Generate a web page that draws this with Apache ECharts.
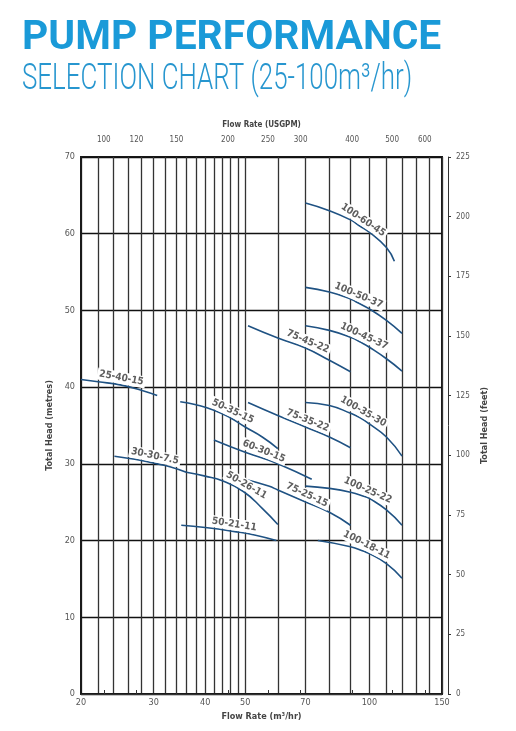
<!DOCTYPE html>
<html>
<head>
<meta charset="utf-8">
<title>Pump Performance Selection Chart</title>
<script src="https://cdn.jsdelivr.net/npm/echarts@6/dist/echarts.min.js"></script>
<style>
  html, body { margin: 0; padding: 0; background: #fff; }
  #chart { width: 516px; height: 731px; }
</style>
</head>
<body>
<div id="chart"></div>
<script>
// flow in m3/hr, head in metres
var gridFlows = [20, 22, 24, 26, 28, 30, 32, 34, 36, 38, 40, 42, 44, 46, 48,
                 50, 60, 70, 80, 90, 100, 110, 120, 130, 140, 150];
var flowLabels = [20, 30, 40, 50, 70, 100, 150];
var gpmLabels = [100, 120, 150, 200, 250, 300, 400, 500, 600];
var GPM_PER_M3H = 4.403;

var names = ['25-40-15', '30-30-7.5', '50-26-11', '50-21-11', '50-35-15',
             '60-30-15', '75-45-22', '75-35-22', '75-25-15', '100-60-45',
             '100-50-37', '100-45-37', '100-35-30', '100-25-22', '100-18-11'];

var flow_25_40_15 = [20, 22, 24.9, 28, 30.6];
var head_25_40_15 = [41.0, 40.7, 40.3, 39.6, 38.9];

var flow_30_30_7 = [24.1, 27, 30, 33, 36];
var head_30_30_7 = [31.0, 30.6, 30.1, 29.6, 28.9];

var flow_50_26_11 = [36, 40, 44, 49.5, 55, 60];
var head_50_26_11 = [28.9, 28.4, 27.8, 26.4, 24.2, 22.1];

var flow_50_21_11 = [35, 40, 46.8, 53, 59.5];
var head_50_21_11 = [22.0, 21.7, 21.2, 20.7, 20.0];

var flow_50_35_15 = [34.8, 38, 42, 46, 50, 55, 60];
var head_50_35_15 = [38.1, 37.7, 37.0, 36.0, 34.8, 33.5, 32.0];

var flow_60_30_15 = [42, 50, 54.8, 60, 72.5];
var head_60_30_15 = [33.1, 31.5, 30.8, 30.0, 28.0];

var flow_75_45_22 = [50.8, 60, 70, 80, 90];
var head_75_45_22 = [48.0, 46.4, 45.1, 43.5, 42.0];

var flow_75_35_22 = [50.8, 60, 70, 80, 90];
var head_75_35_22 = [38.0, 36.3, 34.8, 33.5, 32.1];

var flow_75_25_15 = [50, 57, 60, 69.6, 80, 90];
var head_75_25_15 = [28.0, 27.1, 26.6, 25.1, 23.7, 22.0];

var flow_100_60_45 = [70, 80, 90, 94.8, 100, 110, 115];
var head_100_60_45 = [64.0, 63.0, 61.8, 61.0, 60.2, 58.2, 56.4];

var flow_100_50_37 = [70, 80, 90, 93, 100, 110, 120];
var head_100_50_37 = [53.0, 52.4, 51.5, 51.1, 50.2, 48.7, 47.0];

var flow_100_45_37 = [70, 80, 90, 95.7, 100, 110, 120];
var head_100_45_37 = [48.0, 47.4, 46.5, 45.8, 45.2, 43.7, 42.1];

var flow_100_35_30 = [70, 80, 90, 95, 100, 110, 120];
var head_100_35_30 = [38.0, 37.6, 36.6, 36.0, 35.2, 33.5, 31.0];

var flow_100_25_22 = [70, 80, 90, 97.8, 100, 110, 120];
var head_100_25_22 = [27.1, 26.8, 26.3, 25.7, 25.5, 24.0, 22.0];

var flow_100_18_11 = [75, 90, 97, 100, 110, 120];
var head_100_18_11 = [20.0, 19.2, 18.6, 18.3, 17.0, 15.1];

var flows = [flow_25_40_15, flow_30_30_7, flow_50_26_11, flow_50_21_11, flow_50_35_15,
             flow_60_30_15, flow_75_45_22, flow_75_35_22, flow_75_25_15, flow_100_60_45,
             flow_100_50_37, flow_100_45_37, flow_100_35_30, flow_100_25_22, flow_100_18_11];
var heads = [head_25_40_15, head_30_30_7, head_50_26_11, head_50_21_11, head_50_35_15,
             head_60_30_15, head_75_45_22, head_75_35_22, head_75_25_15, head_100_60_45,
             head_100_50_37, head_100_45_37, head_100_35_30, head_100_25_22, head_100_18_11];

// where each curve's name sits (point index) and its tilt in degrees
var labelIdx = [2, 2, 3, 2, 3, 2, 2, 2, 3, 3, 3, 3, 3, 3, 2];
var labelRot = [-11, -12, -30, -9, -25, -22, -23, -22, -25, -34, -23, -25, -30, -24, -27];

var lg = function (v) { return Math.log10(v); };
var unlg = function (v) { return Math.round(Math.pow(10, v)); };

var FONT = "'DejaVu Sans Condensed', 'Liberation Sans Narrow', Roboto, sans-serif";
var BLUE = '#1a9ad8';

var series = names.map(function (name, i) {
    var data = flows[i].map(function (f, j) {
        var item = { value: [lg(f), heads[i][j]] };
        if (j === labelIdx[i]) {
            item.label = {
                show: true,
                formatter: name,
                position: 'top',
                distance: 1,
                rotate: labelRot[i],
                color: '#5e5e5e',
                fontFamily: FONT,
                fontWeight: 'bold',
                fontSize: 10,
                lineHeight: 10,
                backgroundColor: '#fff',
                padding: [1, 2]
            };
        }
        return item;
    });
    return {
        name: name,
        type: 'line',
        smooth: true,
        showSymbol: true,
        symbol: 'circle',
        symbolSize: 0,
        silent: true,
        lineStyle: { color: '#1f5283', width: 1.6 },
        itemStyle: { color: '#1f5283' },
        label: { show: false },
        data: data
    };
});

var chart = echarts.init(document.getElementById('chart'), null, { renderer: 'canvas' });

var option = {
    animation: false,
    backgroundColor: '#fff',
    graphic: [
        {
            type: 'text', x: 22, y: 19, scaleX: 1.02,
            style: { text: 'PUMP PERFORMANCE', fill: BLUE, fontFamily: 'Roboto, sans-serif',
                     fontWeight: 'bold', fontSize: 40, verticalAlign: 'top' }
        },
        {
            type: 'text', x: 22, y: 62, scaleX: 0.72,
            style: { text: 'SELECTION CHART (25-100m\u00b3/hr)', fill: '#2796cf', fontFamily: 'Roboto, sans-serif',
                     fontWeight: 300, fontSize: 36, verticalAlign: 'top' }
        }
    ],
    grid: {
        left: 81, right: 74, top: 157, bottom: 37,
        show: true, borderColor: '#1a1a1a', borderWidth: 2
    },
    xAxis: [
        {
            type: 'value',
            position: 'bottom',
            min: lg(20), max: lg(150),
            name: 'Flow Rate (m\u00b3/hr)',
            nameLocation: 'middle',
            nameGap: 17,
            nameTextStyle: { color: '#444', fontFamily: FONT, fontWeight: 'bold', fontSize: 9 },
            axisLine: { show: true, lineStyle: { color: '#1a1a1a', width: 2 } },
            axisTick: { show: false, customValues: gridFlows.map(lg) },
            axisLabel: {
                customValues: flowLabels.map(lg), formatter: unlg,
                showMinLabel: true, showMaxLabel: true,
                color: '#555', fontFamily: FONT, fontSize: 9, margin: 4
            },
            splitLine: { show: true, lineStyle: { color: '#333', width: 1.3 } }
        },
        {
            type: 'value',
            position: 'top',
            offset: 8,
            min: lg(20 * GPM_PER_M3H), max: lg(150 * GPM_PER_M3H),
            name: 'Flow Rate (USGPM)',
            nameLocation: 'middle',
            nameGap: 20,
            nameTextStyle: { color: '#444', fontFamily: FONT, fontWeight: 'bold', fontSize: 8 },
            axisLine: { show: true, lineStyle: { color: '#333', width: 1 } },
            axisTick: { show: true, inside: false, length: 4, customValues: gpmLabels.map(lg),
                        lineStyle: { color: '#333' } },
            axisLabel: {
                customValues: gpmLabels.map(lg), formatter: unlg,
                color: '#555', fontFamily: FONT, fontSize: 8, margin: 5
            },
            splitLine: { show: false }
        }
    ],
    yAxis: [
        {
            type: 'value',
            position: 'left',
            min: 0, max: 70, interval: 10,
            name: 'Total Head (metres)',
            nameLocation: 'middle',
            nameRotate: 90,
            nameGap: 25,
            nameTextStyle: { color: '#444', fontFamily: FONT, fontWeight: 'bold', fontSize: 9 },
            axisLine: { show: true, lineStyle: { color: '#1a1a1a', width: 2 } },
            axisTick: { show: false },
            axisLabel: { color: '#555', fontFamily: FONT, fontSize: 9, margin: 6 },
            splitLine: { show: true, lineStyle: { color: '#111', width: 1.3 } }
        },
        {
            type: 'value',
            position: 'right',
            offset: 6,
            min: 0, max: 225, interval: 25,
            name: 'Total Head (feet)',
            nameLocation: 'middle',
            nameRotate: 90,
            nameGap: 30,
            nameTextStyle: { color: '#444', fontFamily: FONT, fontWeight: 'bold', fontSize: 9 },
            axisLine: { show: true, lineStyle: { color: '#333', width: 1 } },
            axisTick: { show: true, inside: false, length: 3, lineStyle: { color: '#333' } },
            axisLabel: { color: '#555', fontFamily: FONT, fontSize: 8, margin: 8 },
            splitLine: { show: false }
        }
    ],
    series: series
};

chart.setOption(option);
</script>
</body>
</html>
